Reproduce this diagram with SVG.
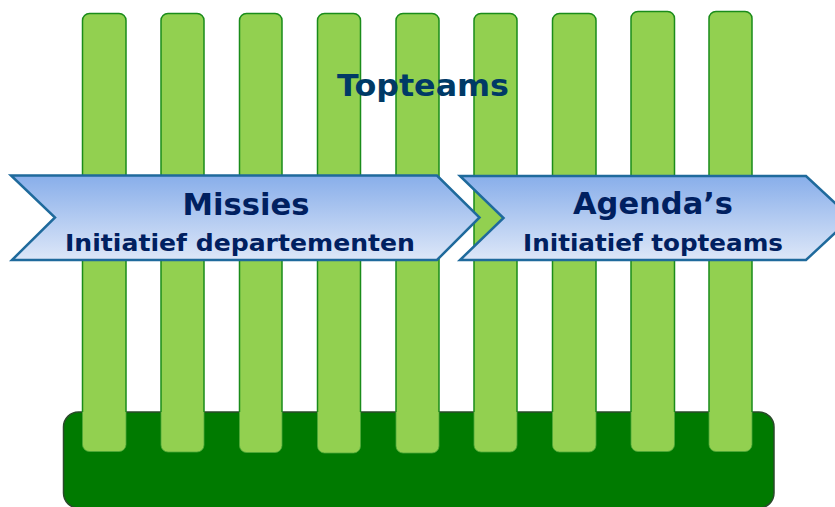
<svg xmlns="http://www.w3.org/2000/svg" width="835" height="507" viewBox="0 0 835 507">
<style>
.bar{fill:#92d050;stroke:#1a8c1a;stroke-width:1.5}
.base{fill:#007a00;stroke:#2a4a2a;stroke-width:1.5}
.chev{fill:url(#cg);stroke:#1f6a9c;stroke-width:2.5;stroke-linejoin:miter}
.t{font-family:"DejaVu Sans",Verdana,sans-serif;font-weight:bold;fill:#002060;text-anchor:middle}
</style>
<defs>
<linearGradient id="cg" x1="0" y1="0" x2="0" y2="1">
<stop offset="0" stop-color="#88aeea"/>
<stop offset="1" stop-color="#dde7f8"/>
</linearGradient>
<clipPath id="above"><rect x="0" y="0" width="835" height="412"/></clipPath>
<clipPath id="below"><rect x="0" y="412" width="835" height="95"/></clipPath>
<g id="barset">
<rect x="82.5" y="13.5" width="43.5" height="438" rx="7"/>
<rect x="161" y="13.5" width="43" height="438.5" rx="7"/>
<rect x="239.5" y="13.5" width="42.5" height="439" rx="7"/>
<rect x="317.5" y="13.5" width="43" height="439.5" rx="7"/>
<rect x="396" y="13.5" width="43" height="439.5" rx="7"/>
<rect x="474" y="13.5" width="43" height="438.5" rx="7"/>
<rect x="552.5" y="13.5" width="43.5" height="438.5" rx="7"/>
<rect x="631" y="11.5" width="43.5" height="440" rx="7"/>
<rect x="709" y="11.5" width="43" height="440" rx="7"/>
</g>
</defs>
<g id="base"><rect class="base" x="63.5" y="412" width="710.5" height="96" rx="15"/></g>
<g id="bars">
<use href="#barset" class="bar" clip-path="url(#above)"/>
<use href="#barset" fill="#92d050" stroke="#4fa83a" stroke-width="0.8" clip-path="url(#below)"/>
</g>
<g id="topteams"><text class="t" x="423" y="96" font-size="30" style="fill:#003a66" textLength="172" lengthAdjust="spacingAndGlyphs">Topteams</text></g>
<g id="missies">
<polygon class="chev" points="11,175.5 437,175.5 479.5,217.5 437,260 12,260 55,217.5"/>
<text class="t" x="246" y="215" font-size="29.5" textLength="127" lengthAdjust="spacingAndGlyphs">Missies</text>
<text class="t" x="240" y="250.5" font-size="23" textLength="350" lengthAdjust="spacingAndGlyphs">Initiatief departementen</text>
</g>
<g id="agendas">
<polygon class="chev" points="460,176 806,176 851,218 806,260 460,260 503.5,218"/>
<text class="t" x="653" y="214" font-size="29.5" textLength="160" lengthAdjust="spacingAndGlyphs">Agenda’s</text>
<text class="t" x="653" y="250.5" font-size="23" textLength="260" lengthAdjust="spacingAndGlyphs">Initiatief topteams</text>
</g>
<g id="connectors"></g>
</svg>
